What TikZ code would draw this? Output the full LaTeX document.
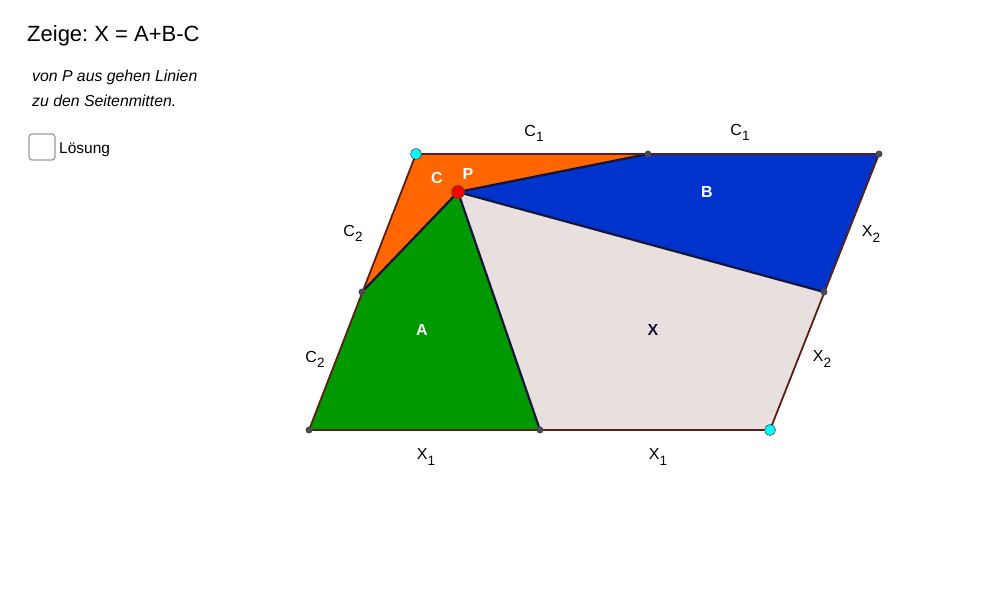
\documentclass[tikz,border=0pt]{standalone}
\usepackage{fontspec}
\setmainfont{Liberation Sans}
\frenchspacing
\definecolor{corange}{HTML}{FF6600}
\definecolor{cblue}{HTML}{0033CC}
\definecolor{cgreen}{HTML}{009900}
\definecolor{cx}{HTML}{E8E0DF}
\definecolor{edge}{HTML}{5A1E14}
\definecolor{inner}{HTML}{14143C}
\definecolor{dotgray}{HTML}{4A4A52}
\definecolor{ccyan}{HTML}{00FFFF}
\tikzset{
  region/.style={draw=none},
  outer/.style={draw=edge, line width=1.8pt},
  innerline/.style={draw=inner, line width=2.2pt},
  smalldot/.style={circle, fill=dotgray, inner sep=0pt, minimum size=7pt},
  bigdot/.style={circle, draw=dotgray, line width=0.6pt, inner sep=0pt, minimum size=11pt},
  seglabel/.style={font=\fontsize{16}{18}\selectfont, inner sep=0pt},
  reglabel/.style={font=\fontsize{16}{18}\selectfont\bfseries, text=white, inner sep=0pt},
}
\newcommand{\sublab}[2]{#1\raisebox{-0.6ex}{\fontsize{13.5}{14}\selectfont #2}}
\begin{document}
\begin{tikzpicture}[x=1pt,y=-1pt]
\useasboundingbox (0,0) rectangle (1000,594);
% vertices
\coordinate (BL) at (309,430);
\coordinate (BR) at (770,430);
\coordinate (TL) at (416,154);
\coordinate (TR) at (879,154);
\coordinate (TM) at (648,154);
\coordinate (BM) at (540,430);
\coordinate (LM) at (362,292);
\coordinate (RM) at (824,292);
\coordinate (P) at (458,192);
% regions
\fill[corange] (TL) -- (TM) -- (P) -- (LM) -- cycle;
\fill[cblue] (TM) -- (TR) -- (RM) -- (P) -- cycle;
\fill[cgreen] (LM) -- (P) -- (BM) -- (BL) -- cycle;
\fill[cx] (P) -- (RM) -- (BR) -- (BM) -- cycle;
% inner lines
\draw[innerline] (P) -- (TM);
\draw[innerline] (P) -- (RM);
\draw[innerline] (P) -- (BM);
\draw[innerline] (P) -- (LM);
% outer edges
\draw[outer] (BL) -- (BR) -- (TR) -- (TL) -- cycle;
% points
\node[smalldot] (dTM) at (TM) {};
\node[smalldot] (dTR) at (TR) {};
\node[smalldot] (dLM) at (LM) {};
\node[smalldot] (dBL) at (BL) {};
\node[smalldot] (dBM) at (BM) {};
\node[smalldot] (dRM) at (RM) {};
\node[bigdot, fill=ccyan] (dTL) at (TL) {};
\node[bigdot, fill=ccyan] (dBR) at (BR) {};
\node[bigdot, fill=red, minimum size=13pt] (dP) at (P) {};
% segment labels
\node[seglabel] (lc1a) at (534,133) {\sublab{C}{1}};
\node[seglabel] (lc1b) at (740,132) {\sublab{C}{1}};
\node[seglabel] (lc2a) at (353,233) {\sublab{C}{2}};
\node[seglabel] (lc2b) at (315,359) {\sublab{C}{2}};
\node[seglabel] (lx2a) at (871,234) {\sublab{X}{2}};
\node[seglabel] (lx2b) at (822,359) {\sublab{X}{2}};
\node[seglabel] (lx1a) at (426,457) {\sublab{X}{1}};
\node[seglabel] (lx1b) at (658,457) {\sublab{X}{1}};
% region labels
\node[reglabel] (lC) at (437,178) {C};
\node[reglabel] (lP) at (468,174) {P};
\node[reglabel] (lB) at (707,192) {B};
\node[reglabel] (lA) at (422,330) {A};
\node[reglabel, text=inner] (lX) at (653,330) {X};
% texts
\node[anchor=west, inner sep=0pt, font=\fontsize{22}{24}\selectfont] (title) at (27,36) {Zeige: X = A+B-C};
\node[anchor=north west, inner sep=0pt, align=left, font=\fontsize{15.8}{24.5}\selectfont\itshape] (hint) at (32,70) {von P aus gehen Linien\\zu den Seitenmitten.};
\draw[gray!80, line width=1.2pt, rounded corners=3pt] (29,134) rectangle (55,160);
\node[anchor=west, inner sep=0pt, font=\fontsize{15.5}{17}\selectfont] (loes) at (59,150) {Lösung};
\end{tikzpicture}
\end{document}
